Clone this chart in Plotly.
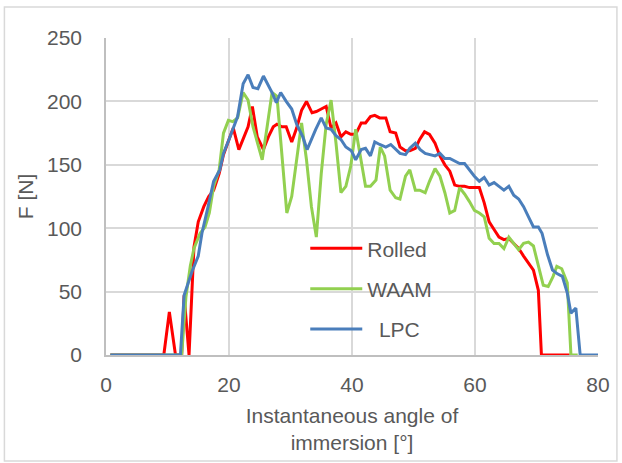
import plotly.graph_objects as go

# Instantaneous angle of immersion [deg] and force F [N]
rolled_x = [0.7, 9.4, 10.3, 11.3, 12.3, 12.7, 13.5, 14.3, 15.0, 15.9, 16.7, 17.5, 18.4, 19.1, 20.0,
            20.7, 21.6, 22.3, 23.1, 23.8, 24.6, 25.6, 26.4, 27.2, 27.8, 28.6, 29.3, 30.2, 31.0,
            31.8, 32.6, 33.5, 34.2, 35.0, 35.8, 36.6, 37.4, 38.2, 39.0, 39.8, 40.6, 41.5, 42.2,
            43.0, 43.7, 44.5, 45.5, 46.2, 47.1, 47.8, 48.7, 49.4, 50.3, 51.0, 51.8, 52.6, 53.5,
            54.3, 55.1, 55.9, 56.7, 57.5, 58.3, 59.1, 59.9, 60.7, 61.5, 62.3, 63.1, 63.9, 64.7,
            65.5, 66.3, 67.1, 67.9, 68.7, 69.5, 70.3, 70.8, 75.4]
rolled_y = [0, 0, 34, 0, 0, 47, 0, 85, 105, 117, 125, 130, 143, 158, 170,
            179, 162, 170, 180, 196, 172, 162, 172, 180, 182, 180, 180, 168, 179,
            193, 200, 191, 192, 194, 196, 179, 183, 172, 176, 174, 174, 183, 183,
            188, 189, 187, 187, 176, 175, 164, 161, 161, 163, 170, 176, 174, 167,
            157, 150, 145, 134, 133, 133, 132, 132, 132, 120, 105, 99, 93, 91,
            92, 88, 84, 78, 72, 67, 51, 0, 0]

waam_x = [0.7, 12.3, 13.0, 13.7, 14.3, 15.3, 16.1, 16.8, 17.5, 18.4, 19.1, 19.9, 20.6, 21.4,
          22.3, 23.1, 23.9, 24.7, 25.4, 26.2, 27.0, 27.8, 28.6, 29.4, 30.2, 31.0, 31.8, 32.6,
          33.4, 34.2, 35.0, 35.8, 36.6, 37.4, 38.2, 39.0, 39.8, 40.6, 41.4, 42.2, 43.0, 43.9,
          44.6, 45.3, 46.2, 47.1, 47.8, 48.7, 49.4, 50.3, 51.0, 51.9, 52.6, 53.5, 54.3, 55.1,
          55.9, 56.7, 57.5, 58.3, 59.1, 59.9, 60.7, 61.5, 62.3, 63.1, 63.9, 64.7, 65.5, 66.3,
          67.1, 67.9, 68.7, 69.5, 70.3, 71.1, 71.9, 72.7, 73.3, 74.1, 75.0, 75.6, 76.7]
waam_y = [0, 0, 46, 70, 84, 96, 101, 112, 133, 146, 175, 185, 184, 187,
          207, 201, 180, 167, 154, 180, 207, 204, 157, 112, 125, 154, 183, 154,
          117, 93, 143, 182, 201, 167, 128, 133, 149, 178, 154, 133, 133, 138,
          164, 157, 130, 124, 123, 141, 146, 130, 130, 128, 137, 147, 141, 128,
          112, 114, 132, 127, 121, 114, 112, 109, 92, 88, 88, 84, 93, 88,
          83, 88, 89, 86, 70, 55, 54, 62, 70, 68, 57, 0, 0]

lpc_x = [0.7, 12.1, 12.7, 14.0, 15.0, 15.6, 16.6, 17.5, 18.5, 19.1, 20.0, 20.8, 21.4, 22.3,
         23.1, 23.9, 24.7, 25.6, 26.4, 27.0, 27.7, 28.4, 29.3, 30.2, 31.0, 32.0, 32.7, 33.5,
         34.1, 35.0, 35.8, 36.6, 37.4, 38.2, 39.0, 39.9, 40.6, 41.5, 42.2, 43.0, 43.7, 44.5,
         45.5, 46.3, 47.1, 47.8, 48.7, 49.4, 50.3, 51.1, 51.9, 52.6, 53.5, 54.3, 55.1, 55.9,
         56.7, 57.5, 58.3, 59.1, 59.9, 60.7, 61.5, 62.3, 63.1, 63.9, 64.7, 65.5, 66.3, 67.1,
         67.9, 68.7, 69.5, 70.3, 70.9, 71.8, 72.6, 73.4, 74.2, 75.0, 75.6, 76.4, 77.1, 80.0]
lpc_y = [0, 0, 47, 66, 78, 96, 117, 137, 146, 159, 170, 180, 188, 214,
         221, 211, 210, 220, 213, 207, 199, 207, 200, 194, 182, 172, 162, 172,
         178, 187, 179, 178, 173, 170, 164, 161, 154, 162, 163, 157, 168, 166,
         164, 166, 162, 159, 158, 163, 167, 162, 159, 158, 157, 159, 155, 155,
         153, 151, 151, 146, 141, 137, 140, 134, 136, 133, 130, 133, 126, 123,
         117, 109, 101, 101, 96, 79, 67, 64, 62, 49, 33, 37, 0, 0]

x_ticks = [0, 20, 40, 60, 80]
y_ticks = [0, 50, 100, 150, 200, 250]

FONT = "Liberation Sans"
TXT = "#595959"
FS = 21

fig = go.Figure()
series = [("Rolled", rolled_x, rolled_y, "#FF0000"),
          ("WAAM", waam_x, waam_y, "#92D050"),
          ("  LPC", lpc_x, lpc_y, "#4A7EBB")]
for i, (name, xs, ys, col) in enumerate(series):
    fig.add_trace(go.Scatter(x=xs, y=ys, mode="lines", name=name, legendgroup=str(i),
                             line=dict(color=col, width=3)))

fig.update_layout(
    width=622, height=463,
    margin=dict(l=106, r=22, t=38, b=108),
    paper_bgcolor="white", plot_bgcolor="white",
    font=dict(family=FONT, size=FS, color=TXT),
    showlegend=True,
    legend=dict(x=0.405, y=0.40, xanchor="left", yanchor="top",
                bgcolor="rgba(0,0,0,0)", itemwidth=52, tracegroupgap=10,
                traceorder="grouped", font=dict(size=FS, color=TXT)),
    xaxis=dict(range=[0, 80], tickvals=x_ticks, showgrid=True, gridcolor="#D9D9D9",
               gridwidth=1.5, zeroline=False, showline=True, linecolor="#BFBFBF",
               linewidth=1.5, ticks="", ticklabelstandoff=10,
               title=dict(text="Instantaneous angle of<br>immersion [°]", standoff=13,
                          font=dict(size=FS, color=TXT))),
    yaxis=dict(range=[0, 250], tickvals=y_ticks, showgrid=True, gridcolor="#D9D9D9",
               gridwidth=1.5, zeroline=False, showline=True, linecolor="#BFBFBF",
               linewidth=1.5, ticks="", ticklabelstandoff=18,
               title=dict(text="F [N]", standoff=8, font=dict(size=FS, color=TXT))),
    shapes=[dict(type="rect", xref="paper", yref="paper",
                 x0=(4 - 106) / 494, x1=(619 - 106) / 494,
                 y0=(355 - 461) / 317, y1=(355 - 7) / 317,
                 line=dict(color="#D9D9D9", width=1.5), fillcolor="rgba(0,0,0,0)",
                 layer="below")],
)

fig.write_html("out.html")
